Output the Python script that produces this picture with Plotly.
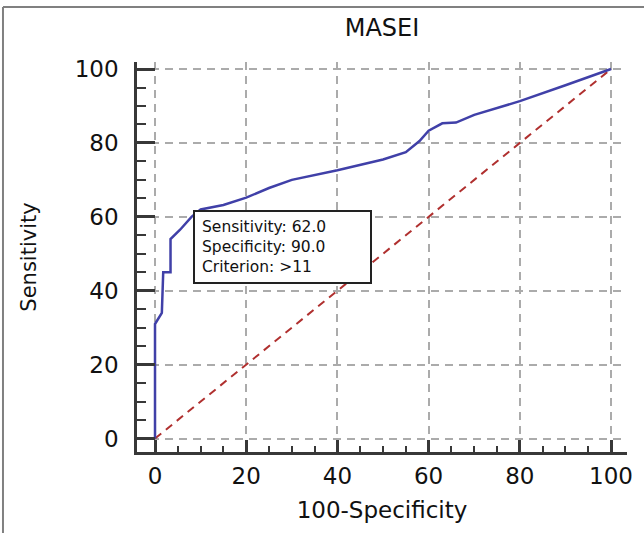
import plotly.graph_objects as go

# ROC curve (100-Specificity, Sensitivity)
fpr = [0, 0, 1.5, 1.8, 3.4, 3.4, 5.5, 8.0, 10, 15, 20, 25, 30, 40, 50, 55, 58, 60, 63, 66, 70, 80, 90, 100]
tpr = [0, 31, 34, 45, 45, 54, 56.5, 60, 62, 63.2, 65.2, 67.8, 70, 72.6, 75.5, 77.5, 80.5, 83.3, 85.3, 85.5, 87.6, 91.3, 95.6, 100]
ref_x = [0, 100]
ref_y = [0, 100]
tick_vals = [0, 20, 40, 60, 80, 100]
tick_text = ["0", "20", "40", "60", "80", "100"]
title_text = "MASEI"
x_title = "100-Specificity"
y_title = "Sensitivity"
note_lines = ["Sensitivity: 62.0", "Specificity: 90.0", "Criterion: >11"]
note_pos = (8.3, 61.8)

FONT = "DejaVu Sans, Arial"

fig = go.Figure()
fig.add_trace(go.Scatter(x=ref_x, y=ref_y, mode="lines",
                         line=dict(color="#b0302f", width=2, dash="8px,6px"),
                         hoverinfo="skip", showlegend=False))
fig.add_trace(go.Scatter(x=fpr, y=tpr, mode="lines",
                         line=dict(color="#4040a8", width=2.5),
                         showlegend=False))

axis_common = dict(
    automargin=False,
    showline=True, linecolor="#383838", linewidth=2.5,
    showgrid=True, gridcolor="#ababab", gridwidth=2, griddash="8px,6px",
    zeroline=False, ticks="inside", tickcolor="#383838", tickwidth=2.5,
    tickvals=tick_vals, ticktext=tick_text,
    tickfont=dict(family=FONT, size=23, color="#111111"),
)

fig.update_xaxes(**axis_common, range=[-3.95, 103.5], ticklen=12,
                 minor=dict(dtick=5, tick0=0, ticks="inside", ticklen=6,
                            tickcolor="#383838", tickwidth=2, showgrid=False),
                 ticklabelstandoff=2,
                 title=dict(text=x_title, font=dict(family=FONT, size=23, color="#111111"),
                            standoff=14))
fig.update_yaxes(**axis_common, range=[-3.65, 101.9], ticklen=18,
                 minor=dict(dtick=5, tick0=0, ticks="inside", ticklen=9,
                            tickcolor="#383838", tickwidth=2, showgrid=False),
                 ticklabelstandoff=11,
                 title=dict(text=y_title, font=dict(family=FONT, size=21, color="#111111"),
                            standoff=33))

fig.add_annotation(x=note_pos[0], y=note_pos[1], xref="x", yref="y",
                   xanchor="left", yanchor="top", showarrow=False, align="left",
                   text="<br>".join(note_lines),
                   font=dict(family=FONT, size=15.5, color="#111111"),
                   bgcolor="white", bordercolor="#222222", borderwidth=2, borderpad=7,
                   width=161, height=56)

# outer frame (left and top edges)
fig.add_shape(type="line", xref="paper", yref="paper", x0=-0.2735, x1=-0.2735, y0=-0.25, y1=1.141,
              line=dict(color="#808080", width=2))
fig.add_shape(type="line", xref="paper", yref="paper", x0=-0.2735, x1=1.1, y0=1.141, y1=1.141,
              line=dict(color="#808080", width=2))

fig.update_layout(
    width=644, height=533,
    margin=dict(l=137, r=17, t=62, b=81),
    paper_bgcolor="white", plot_bgcolor="white",
    title=dict(text=title_text, xref="paper", x=0.5, xanchor="center",
               yref="container", y=1 - 28 / 533, yanchor="middle",
               font=dict(family=FONT, size=24, color="#111111")),
)

fig.write_html("out.html", config={"displayModeBar": False},
               post_script="document.body.style.margin='0px';document.body.style.padding='0px';")
